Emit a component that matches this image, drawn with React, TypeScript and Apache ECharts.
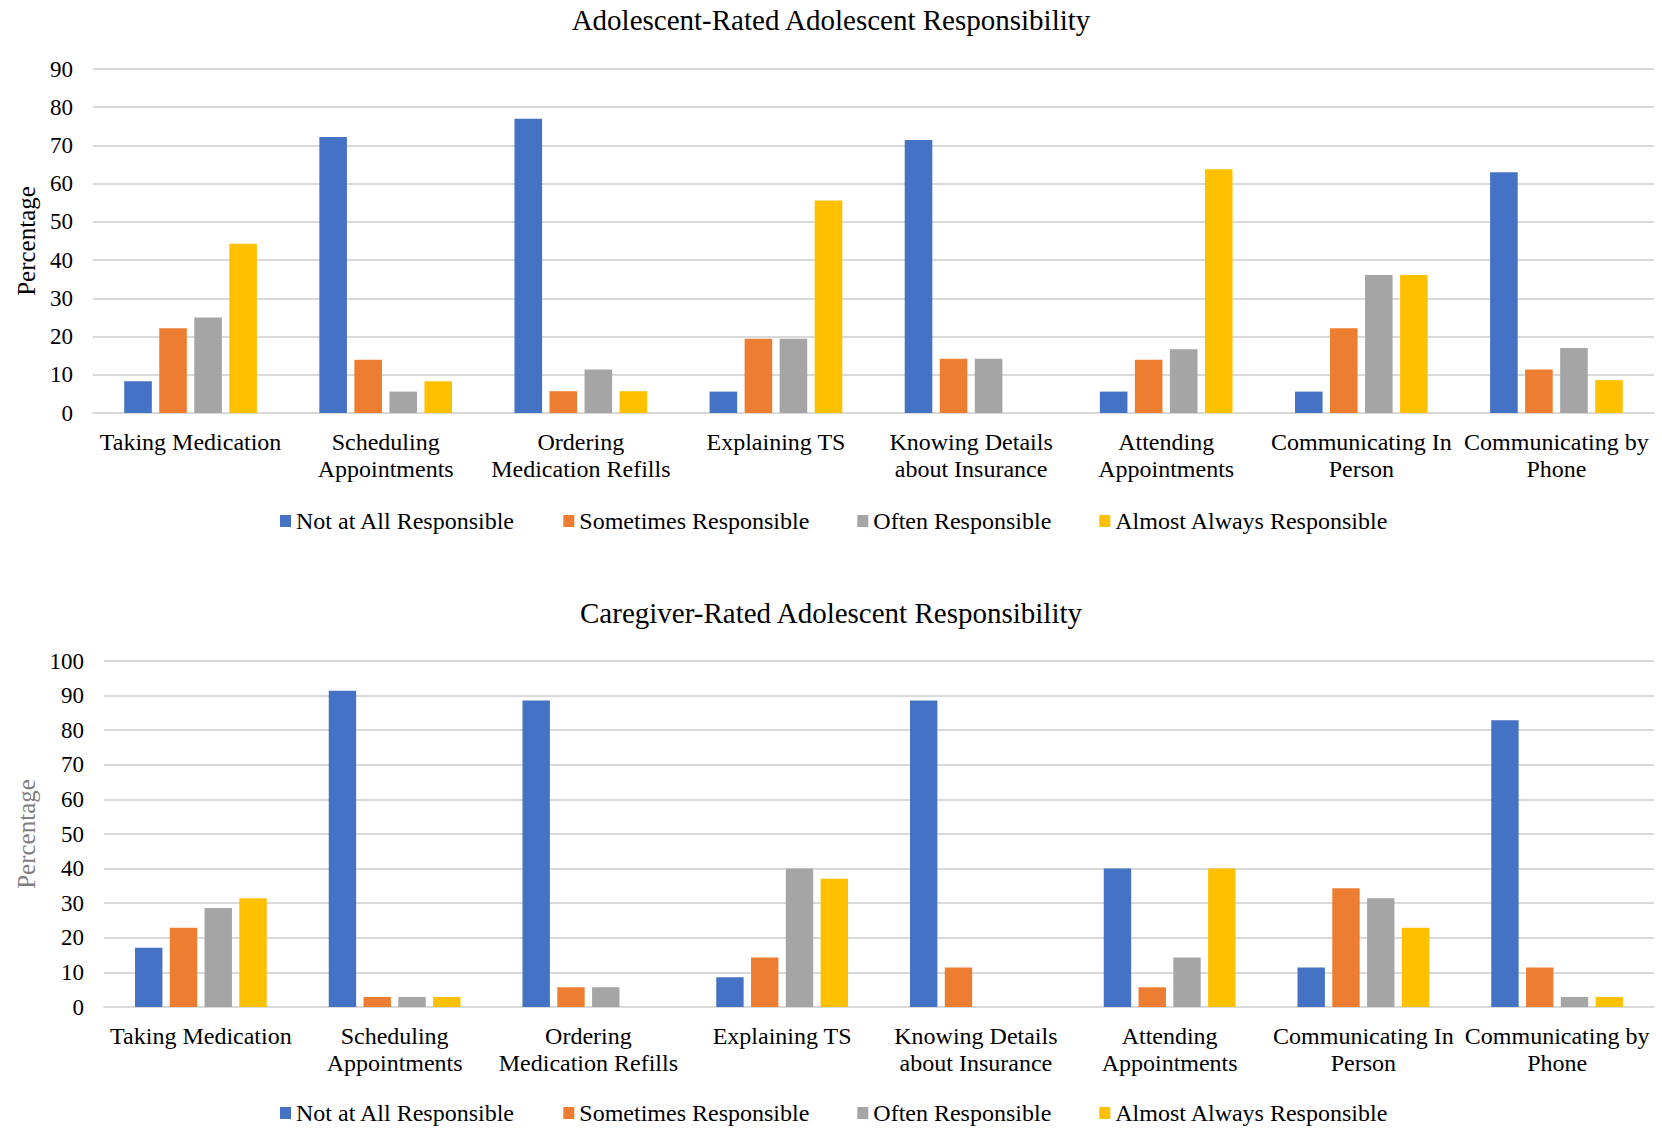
import React, { useEffect, useRef } from "react";
import * as echarts from "echarts";

const categories = [
  "Taking Medication",
  "Scheduling\nAppointments",
  "Ordering\nMedication Refills",
  "Explaining TS",
  "Knowing Details\nabout Insurance",
  "Attending\nAppointments",
  "Communicating In\nPerson",
  "Communicating by\nPhone",
];

const seriesNames = [
  "Not at All Responsible",
  "Sometimes Responsible",
  "Often Responsible",
  "Almost Always Responsible",
];

const colors = ["#4472C4", "#ED7D31", "#A5A5A5", "#FFC000"];

// Adolescent-rated
const adoNotAtAll = [8.3, 72.2, 77.0, 5.6, 71.4, 5.6, 5.6, 63.0];
const adoSometimes = [22.2, 13.9, 5.7, 19.4, 14.2, 13.9, 22.2, 11.4];
const adoOften = [25.0, 5.6, 11.4, 19.4, 14.2, 16.7, 36.1, 17.0];
const adoAlmostAlways = [44.3, 8.3, 5.7, 55.6, null, 63.8, 36.1, 8.6];

// Caregiver-rated
const careNotAtAll = [17.1, 91.4, 88.6, 8.6, 88.6, 40.0, 11.4, 82.9];
const careSometimes = [22.9, 2.9, 5.7, 14.3, 11.4, 5.7, 34.3, 11.4];
const careOften = [28.6, 2.9, 5.7, 40.0, null, 14.3, 31.4, 2.9];
const careAlmostAlways = [31.4, 2.9, null, 37.1, null, 40.0, 22.9, 2.9];

const titles = [
  "Adolescent-Rated Adolescent Responsibility",
  "Caregiver-Rated Adolescent Responsibility",
];
const yAxisName = "Percentage";

const FONT = "'Liberation Serif', 'Times New Roman', serif";

export default function App() {
  const ref = useRef<HTMLDivElement>(null);

  useEffect(() => {
    if (!ref.current) return;
    const chart = echarts.init(ref.current, undefined, { renderer: "svg" });

    const adoData = [adoNotAtAll, adoSometimes, adoOften, adoAlmostAlways];
    const careData = [careNotAtAll, careSometimes, careOften, careAlmostAlways];

    const makeX = (gridIndex: number) => ({
      type: "category",
      gridIndex,
      data: categories,
      axisTick: { show: false },
      axisLine: { show: true, lineStyle: { color: "#d9d9d9", width: 2 } },
      axisLabel: {
        color: "#000",
        fontFamily: FONT,
        fontSize: 24,
        lineHeight: 27,
        margin: 15,
        interval: 0,
      },
    });

    const makeY = (gridIndex: number, max: number, nameColor: string, nameGap: number) => ({
      type: "value",
      gridIndex,
      min: 0,
      max,
      interval: 10,
      name: yAxisName,
      nameLocation: "middle",
      nameGap,
      nameTextStyle: { color: nameColor, fontFamily: FONT, fontSize: 25 },
      axisLine: { show: false },
      axisTick: { show: false },
      axisLabel: { color: "#000", fontFamily: FONT, fontSize: 23, margin: 20 },
      splitLine: { lineStyle: { color: "#d9d9d9", width: 2 } },
    });

    const series: any[] = [];
    seriesNames.forEach((name, i) => {
      series.push({
        type: "bar",
        name,
        xAxisIndex: 0,
        yAxisIndex: 0,
        data: adoData[i],
        itemStyle: { color: colors[i] },
        barGap: "27%",
        barCategoryGap: "32%",
      });
    });
    seriesNames.forEach((name, i) => {
      series.push({
        type: "bar",
        name,
        xAxisIndex: 1,
        yAxisIndex: 1,
        data: careData[i],
        itemStyle: { color: colors[i] },
        barGap: "27%",
        barCategoryGap: "32%",
      });
    });

    const legendBase = {
      data: seriesNames,
      left: 280,
      itemWidth: 11,
      itemHeight: 12,
      itemGap: 48,
      icon: "rect",
      padding: 0,
      textStyle: { color: "#000", fontFamily: FONT, fontSize: 24 },
      selectedMode: false,
    };

    const titleStyle = { color: "#000", fontFamily: FONT, fontSize: 29, fontWeight: "normal" };

    chart.setOption({
      animation: false,
      backgroundColor: "#fff",
      title: [
        { text: titles[0], left: "center", top: 0, textStyle: titleStyle },
        { text: titles[1], left: "center", top: 593, textStyle: titleStyle },
      ],
      legend: [
        { ...legendBase, top: 509 },
        { ...legendBase, top: 1101 },
      ],
      grid: [
        { left: 93, right: 8, top: 69, bottom: 715, containLabel: false },
        { left: 104, right: 8, top: 661, bottom: 121, containLabel: false },
      ],
      xAxis: [makeX(0), makeX(1)],
      yAxis: [makeY(0, 90, "#000", 50), makeY(1, 100, "#7f7f7f", 62)],
      series,
    });

    return () => chart.dispose();
  }, []);

  return (
    <div
      ref={ref}
      style={{ position: "fixed", left: 0, top: 0, width: 1662, height: 1128, background: "#fff" }}
    />
  );
}
